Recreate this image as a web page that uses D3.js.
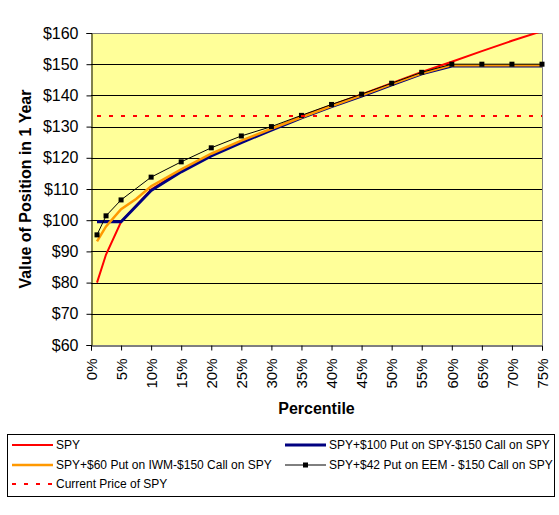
<!DOCTYPE html>
<html>
<head>
<meta charset="utf-8">
<script src="https://cdn.jsdelivr.net/npm/d3@7"></script>
<style>
  body { margin: 0; background: #fff; }
  text { font-family: "Liberation Sans", Arial, sans-serif; fill: #000; }
</style>
</head>
<body>
<div id="chart"></div>
<script>
// percentile points (x) and series values ($)
var pct = [1, 2.5, 5, 10, 15, 20, 25, 30, 35, 40, 45, 50, 55, 60, 65, 70, 75];
var spy = [80, 89, 99.5, 109.8, 115.9, 120.9, 125.2, 129.2, 133.3, 136.9, 140.3, 143.9, 147.5, 150.8, 154.2, 157.5, 160.6];
var putSpy = [99.5, 99.5, 99.5, 109.5, 115.5, 120.6, 124.9, 128.9, 132.8, 136.4, 139.8, 143.4, 146.9, 149.4, 149.4, 149.4, 149.4];
var orangePct = [1, 2.5, 5, 7.5, 10, 15, 20, 25, 30, 35, 40, 45, 50, 55, 60, 65, 70, 75];
var putIwm = [93.2, 98, 103.5, 106.8, 110.9, 116.3, 121.3, 125.5, 129.3, 133, 136.6, 140, 143.6, 147.1, 149.7, 149.7, 149.7, 149.7];
var putEem = [95.3, 101.4, 106.5, 113.8, 118.7, 123.2, 127.0, 130.0, 133.6, 137.1, 140.4, 143.9, 147.4, 150.0, 150, 150, 150];
var currentPrice = 133.4;

var xTicks = d3.range(0, 80, 5);
var yTicks = d3.range(60, 170, 10);

var legendItems = [
  {name: "SPY", color: "#ff0000", w: 2, type: "line"},
  {name: "SPY+$100 Put on SPY-$150 Call on SPY", color: "#000080", w: 3, type: "line"},
  {name: "SPY+$60 Put on IWM-$150 Call on SPY", color: "#ff9900", w: 2.5, type: "line"},
  {name: "SPY+$42 Put on EEM - $150 Call on SPY", color: "#000", w: 1, type: "marker"},
  {name: "Current Price of SPY", color: "#ff0000", w: 2, type: "dash"}
];

var W = 559, H = 515;
var pLeft = 91, pRight = 542, pTop = 33, pBottom = 345;

var svg = d3.select("#chart").append("svg")
    .attr("width", W)
    .attr("height", H);

var x = d3.scaleLinear().domain([0, 75]).range([pLeft, pRight]);
var y = d3.scaleLinear().domain([60, 160]).range([pBottom, pTop]);

svg.append("rect")
    .attr("x", pLeft).attr("y", pTop)
    .attr("width", pRight - pLeft).attr("height", pBottom - pTop)
    .attr("fill", "#ffff99");

svg.append("defs").append("clipPath").attr("id", "clip")
  .append("rect")
    .attr("x", pLeft).attr("y", pTop)
    .attr("width", pRight - pLeft).attr("height", pBottom - pTop);

// gridlines
svg.append("g").selectAll("line")
  .data(yTicks.filter(function(d) { return d > 60 && d < 160; }))
  .enter().append("line")
    .attr("x1", pLeft).attr("x2", pRight)
    .attr("y1", function(d) { return Math.round(y(d)) + 0.5; })
    .attr("y2", function(d) { return Math.round(y(d)) + 0.5; })
    .attr("stroke", "#000").attr("stroke-width", 1);

// gray border top/right
svg.append("path")
    .attr("d", "M" + pLeft + "," + (pTop + 0.5) + "H" + (pRight + 0.5) + "V" + pBottom)
    .attr("fill", "none").attr("stroke", "#808080").attr("stroke-width", 1);

var yAxis = svg.append("g")
    .attr("transform", "translate(" + (pLeft + 0.5) + ",0)")
    .call(d3.axisLeft(y).tickValues(yTicks).tickSize(5).tickPadding(8)
      .tickFormat(function(d) { return "$" + d; }));
yAxis.select(".domain").attr("stroke", "#000");
yAxis.selectAll("text").style("font-size", "16px").attr("fill", "#000");

var xAxis = svg.append("g")
    .attr("transform", "translate(0," + (pBottom + 0.5) + ")")
    .call(d3.axisBottom(x).tickValues(xTicks).tickSize(5)
      .tickFormat(function(d) { return d + "%"; }));
xAxis.select(".domain").attr("stroke", "#000");
xAxis.selectAll("text")
    .style("font-size", "15px").attr("fill", "#000")
    .attr("text-anchor", "end")
    .attr("transform", "rotate(-90)")
    .attr("x", -13).attr("y", 0).attr("dy", "0.35em");

// series
var line = d3.line()
    .x(function(d) { return x(d[0]); })
    .y(function(d) { return y(d[1]); });

var plot = svg.append("g").attr("clip-path", "url(#clip)");

plot.append("path")
    .attr("d", line(d3.zip(pct, spy)))
    .attr("fill", "none").attr("stroke", "#ff0000").attr("stroke-width", 2);

plot.append("path")
    .attr("d", line(d3.zip(pct, putSpy)))
    .attr("fill", "none").attr("stroke", "#000080").attr("stroke-width", 3);

plot.append("path")
    .attr("d", line(d3.zip(orangePct, putIwm)))
    .attr("fill", "none").attr("stroke", "#ff9900").attr("stroke-width", 2.5);

plot.append("path")
    .attr("d", line(d3.zip(pct, putEem)))
    .attr("fill", "none").attr("stroke", "#000").attr("stroke-width", 1);

svg.append("g").selectAll("rect")
  .data(d3.zip(pct, putEem))
  .enter().append("rect")
    .attr("x", function(d) { return x(d[0]) - 2.5; })
    .attr("y", function(d) { return y(d[1]) - 2.5; })
    .attr("width", 5).attr("height", 5)
    .attr("fill", "#000");

svg.append("line")
    .attr("x1", pLeft + 1).attr("x2", pRight)
    .attr("y1", y(currentPrice)).attr("y2", y(currentPrice))
    .attr("stroke", "#ff0000").attr("stroke-width", 2)
    .attr("stroke-dasharray", "4,8")
    .attr("stroke-dashoffset", -5);

// axis titles
svg.append("text")
    .attr("x", (pLeft + pRight) / 2).attr("y", 414)
    .attr("text-anchor", "middle")
    .style("font-size", "16px").style("font-weight", "bold")
    .text("Percentile");

svg.append("text")
    .attr("transform", "translate(31," + ((pTop + pBottom) / 2) + ") rotate(-90)")
    .attr("text-anchor", "middle")
    .style("font-size", "16px").style("font-weight", "bold")
    .text("Value of Position in 1 Year");

// legend
var legend = svg.append("g");
legend.append("rect")
    .attr("x", 7.5).attr("y", 434.5)
    .attr("width", 547).attr("height", 62)
    .attr("fill", "#fff").attr("stroke", "#000");

var slots = [[12, 445], [285, 445], [12, 465], [285, 465], [12, 484]];

legendItems.forEach(function(d, i) {
  var sx = slots[i][0], sy = slots[i][1];
  var g = legend.append("g");
  var ln = g.append("line")
      .attr("x1", sx).attr("x2", sx + 41)
      .attr("y1", sy).attr("y2", sy)
      .attr("stroke", d.color).attr("stroke-width", d.w);
  if (d.type === "dash") ln.attr("stroke-dasharray", "4,8");
  if (d.type === "marker") {
    g.append("rect")
        .attr("x", sx + 20.5 - 2.5).attr("y", sy - 2.5)
        .attr("width", 5).attr("height", 5).attr("fill", "#000");
  }
  g.append("text")
      .attr("x", sx + 44).attr("y", sy).attr("dy", "0.35em")
      .style("font-size", "12px")
      .text(d.name);
});
</script>
</body>
</html>
